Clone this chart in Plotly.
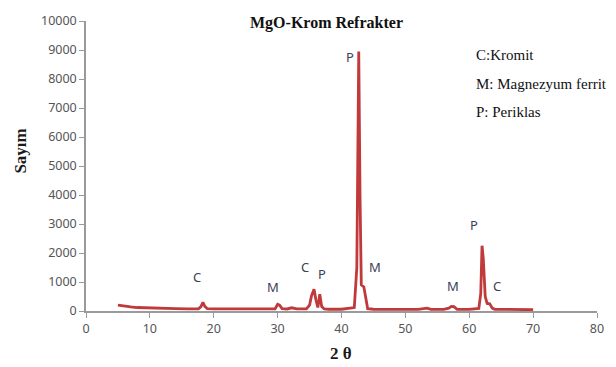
import plotly.graph_objects as go

# --- data ---
two_theta = [5.0, 5.5, 6, 7, 8, 9, 10, 12, 14, 16, 17.6, 18.0, 18.3, 18.6, 19.0, 20, 22, 24, 26, 28,
             29.6, 30.0, 30.3, 30.7, 31.5, 32.2, 33, 34.5, 35.0, 35.3, 35.7, 36.0, 36.3, 36.6, 36.9,
             37.3, 38, 40, 42.0, 42.4, 42.7, 42.9, 43.1, 43.5, 43.8, 44.1, 45, 47, 50, 52, 53.4, 54,
             56, 56.8, 57.2, 57.6, 58.1, 60, 61.5, 61.8, 62.0, 62.2, 62.5, 62.8, 63.2, 63.6, 64, 66,
             68, 70]
counts = [200, 180, 160, 140, 120, 110, 100, 90, 80, 75, 75, 150, 300, 160, 80, 70, 65, 60, 60, 60,
          70, 230, 200, 80, 70, 110, 70, 75, 200, 520, 750, 380, 120, 580, 150,
          70, 60, 60, 120, 1500, 8950, 4000, 900, 830, 400, 80, 60, 55, 55, 55, 100, 55,
          55, 100, 160, 150, 60, 55, 90, 600, 2250, 1800, 500, 260, 250, 100, 60, 50,
          50, 45]

peak_labels = ["C", "M", "C", "P", "P", "M", "M", "P", "C"]
peak_label_x = [17.4, 29.3, 34.3, 36.9, 41.4, 45.2, 57.4, 60.7, 64.4]
peak_label_y = [1170, 820, 1530, 1280, 8770, 1520, 850, 2970, 870]

legend_lines = ["C:Kromit", "M: Magnezyum ferrit", "P: Periklas"]
x_ticks = [0, 10, 20, 30, 40, 50, 60, 70, 80]
y_ticks = [0, 1000, 2000, 3000, 4000, 5000, 6000, 7000, 8000, 9000, 10000]

fig = go.Figure()
fig.add_trace(go.Scatter(x=two_theta, y=counts, mode="lines",
                         line=dict(color="#C0393B", width=2.8), showlegend=False,
                         hoverinfo="skip"))

ann = []
for t, x, y in zip(peak_labels, peak_label_x, peak_label_y):
    ann.append(dict(x=x, y=y, xref="x", yref="y", text=t, showarrow=False,
                    font=dict(family="Noto Sans", size=13, color="#3c3f55")))

for i, t in enumerate(legend_lines):
    ann.append(dict(x=0.759, y=0.883 - i * 0.099, xref="paper", yref="paper", text=t,
                    showarrow=False, xanchor="left", yanchor="middle",
                    font=dict(family="Liberation Serif", size=15, color="#111111")))

ann.append(dict(x=0.47, y=0.993, xref="paper", yref="paper", text="<b>MgO-Krom Refrakter</b>",
                showarrow=False, xanchor="center", yanchor="middle",
                font=dict(family="Liberation Serif", size=16, color="#111111")))
ann.append(dict(x=-0.129, y=0.55, xref="paper", yref="paper", text="<b>Sayım</b>",
                showarrow=False, textangle=-90, xanchor="center", yanchor="middle",
                font=dict(family="Liberation Serif", size=17, color="#1a1a1a")))
ann.append(dict(x=0.499, y=-0.147, xref="paper", yref="paper", text="<b>2 θ</b>",
                showarrow=False, xanchor="center", yanchor="middle",
                font=dict(family="Liberation Serif", size=17, color="#1a1a1a")))

fig.update_layout(
    width=616, height=367,
    margin=dict(l=86, r=19, t=19, b=56),
    paper_bgcolor="white", plot_bgcolor="white",
    annotations=ann,
    xaxis=dict(range=[0, 80], tickvals=x_ticks, showgrid=False, zeroline=False,
               showline=True, linecolor="#9a9a9a", linewidth=1.5,
               ticks="outside", ticklen=5, tickcolor="#9a9a9a",
               tickfont=dict(family="Noto Sans", size=12.5, color="#555555")),
    yaxis=dict(range=[0, 10000], tickvals=y_ticks, tickformat="d", showgrid=False,
               zeroline=False, showline=True, linecolor="#9a9a9a", linewidth=1.5,
               ticks="outside", ticklen=5, tickcolor="#9a9a9a",
               tickfont=dict(family="Noto Sans", size=12.5, color="#555555")),
)

fig.write_html("out.html", config={"displayModeBar": False},
               post_script="document.body.style.margin='0';document.body.style.overflow='hidden';")
